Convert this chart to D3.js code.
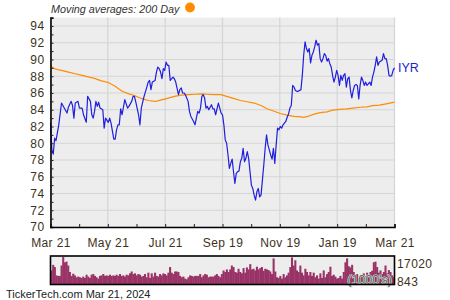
<!DOCTYPE html>
<html>
<head>
<meta charset="utf-8">
<script src="https://cdn.jsdelivr.net/npm/d3@7"></script>
<style>
  body { margin: 0; background: #fff; }
  svg { display: block; font-family: "Liberation Sans", Arial, sans-serif; }
</style>
</head>
<body>
<div id="chart"></div>
<script>
// one year of trading days, Mar 21 to Mar 21
var nDays = 250;
var xTickLabels = ["Mar 21", "May 21", "Jul 21", "Sep 19", "Nov 19", "Jan 19", "Mar 21"];
var yTickLabels = [70, 72, 74, 76, 78, 80, 82, 84, 86, 88, 90, 92, 94];
var yDomain = [70, 95];

// [trading day, close]
var iyrClose = [[0,82.4],[1,79.2],[2,78.7],[3,80.6],[4,80.3],[6,82.2],[8,84.8],[10,84.2],[12,83.6],[13,84.3],[15,85.0],[16,84.5],[17,83.0],[18,84.8],[20,85.0],[21,84.2],[23,84.2],[24,83.4],[26,82.5],[27,85.6],[29,85.0],[30,83.4],[31,83.0],[32,83.8],[33,85.0],[34,84.4],[35,84.9],[36,84.2],[38,84.0],[39,81.8],[40,83.0],[42,82.5],[43,83.0],[44,82.4],[46,80.5],[47,80.5],[48,81.6],[49,82.2],[50,82.2],[51,84.1],[52,83.4],[54,85.2],[56,84.2],[57,84.4],[59,85.0],[60,85.6],[61,85.6],[62,84.9],[64,83.4],[65,82.2],[66,84.2],[67,84.9],[68,85.6],[70,86.7],[71,87.3],[72,87.5],[73,86.4],[74,87.3],[76,87.5],[77,88.5],[78,89.1],[79,88.9],[80,88.5],[81,87.7],[82,88.9],[83,88.7],[84,89.7],[85,89.3],[86,89.3],[87,87.5],[89,87.9],[90,87.7],[91,87.3],[93,85.8],[94,86.4],[95,86.6],[96,86.0],[97,86.0],[98,85.8],[100,85.0],[101,83.8],[102,83.2],[104,82.6],[105,82.2],[106,83.0],[107,83.8],[108,83.6],[109,84.2],[110,85.6],[111,85.8],[112,85.4],[113,84.2],[114,84.4],[115,84.0],[117,84.6],[118,84.1],[119,84.1],[120,83.4],[122,84.8],[123,84.2],[124,83.6],[125,83.4],[126,82.2],[127,80.4],[128,80.0],[129,78.6],[130,77.0],[131,77.6],[132,78.1],[133,76.6],[134,75.2],[135,76.4],[136,76.6],[137,76.7],[138,77.8],[139,78.2],[140,79.4],[141,77.8],[142,78.2],[143,79.0],[144,78.2],[145,76.6],[146,75.0],[147,74.6],[148,73.8],[149,73.2],[150,74.2],[151,74.6],[152,73.6],[153,73.8],[154,75.6],[155,77.4],[156,79.4],[157,81.0],[158,79.8],[159,79.2],[160,78.6],[161,78.1],[162,79.4],[163,77.6],[164,79.8],[165,81.8],[166,81.6],[167,82.0],[168,81.8],[169,82.2],[171,82.6],[172,83.1],[173,83.5],[174,84.2],[175,84.5],[176,86.9],[177,86.7],[178,86.3],[179,86.2],[180,86.2],[182,86.4],[183,88.1],[184,90.5],[185,92.1],[186,91.3],[187,90.9],[188,91.3],[189,89.6],[190,90.5],[191,90.9],[192,91.5],[193,92.3],[194,91.7],[195,91.9],[196,90.1],[197,89.7],[198,90.1],[199,90.7],[200,90.5],[201,89.8],[202,90.1],[203,89.5],[204,89.1],[205,88.1],[206,87.3],[207,87.9],[208,88.7],[209,88.1],[210,86.9],[211,88.1],[212,87.5],[213,88.1],[214,88.3],[215,86.7],[216,87.7],[217,87.9],[218,86.3],[219,85.4],[220,86.3],[221,86.9],[222,87.0],[223,86.9],[224,85.3],[225,86.9],[226,87.9],[227,87.5],[228,86.9],[229,87.3],[230,86.9],[231,87.1],[232,87.3],[233,86.9],[234,87.9],[235,88.5],[236,89.3],[237,90.3],[238,89.3],[239,89.7],[241,89.9],[242,90.7],[243,90.1],[244,90.1],[245,89.3],[246,88.1],[247,88.0],[248,88.1],[249,88.7],[250,89.0]];

// 200 day moving average, [trading day, value]
var ma200 = [[0,89.4],[1,89.1],[3,88.9],[6,88.75],[8,88.7],[13,88.5],[18,88.3],[23,88.1],[28,87.9],[32,87.75],[37,87.45],[42,87.25],[47,86.8],[52,86.2],[57,85.9],[61,85.7],[66,85.35],[71,85.1],[76,85.0],[78,85.05],[80,85.15],[85,85.35],[90,85.6],[95,85.75],[100,85.8],[105,85.85],[110,85.9],[114,85.85],[119,85.8],[124,85.8],[128,85.6],[133,85.35],[138,85.1],[143,84.95],[148,84.8],[153,84.5],[157,84.15],[162,83.85],[167,83.55],[172,83.35],[177,83.2],[182,83.15],[184,83.1],[187,83.2],[191,83.45],[196,83.65],[201,83.75],[205,83.95],[210,84.05],[215,84.1],[220,84.2],[225,84.3],[230,84.35],[234,84.5],[239,84.55],[244,84.7],[250,84.9]];

// volume in 1000's, left to right
var volumes = [9100,12400,11100,6200,5900,5900,12000,17000,13900,14300,
  12000,8200,5900,7200,6200,5100,5500,5100,4700,5500,
  4700,6600,5500,4700,6600,7000,5900,5100,4300,5900,
  6200,7000,5900,6200,5900,6600,5900,6200,5900,6600,
  5900,7000,5900,6200,5500,6600,6200,7400,8500,7000,
  7400,6200,7000,6600,5500,5900,7000,5100,7800,4700,
  7400,5500,7800,5900,5500,7000,6200,7400,7000,6200,
  7800,11100,7800,7000,8500,8500,8200,5900,5100,5500,
  4300,3900,5100,6200,5900,5500,5900,5900,5900,7000,
  5100,6200,7000,6600,5100,5500,5500,5500,6200,7000,
  5900,5100,7000,9100,8200,9700,8200,9700,12000,11100,
  8200,7800,10100,8200,7400,10500,7800,10900,9700,12800,
  9700,10100,9100,11300,9700,10500,11100,8900,10100,9700,
  9300,8500,7000,16200,8500,5100,4700,5900,4300,7000,
  5100,
  6200,7800,11100,16800,12000,15100,9100,8200,12000,7800,
  6200,10100,8200,6200,8200,5900,7800,5100,6200,4300,
  7400,4700,9100,5100,7000,8200,11300,5900,6600,5500,
  4300,4700,5900,4300,8200,13900,16200,11600,10900,12400,
  8200,6200,7000,4700,5500,6200,7400,5900,7800,5100,
  8200,8900,13900,14300,11100,7800,9100,7000,8200,12000,
  7400,9300,8200,6200,5100];
var volMax = 17020, volMin = 843;

var W = 450, H = 300;
var plotL = 50.5, plotR = 394.5, plotT = 17.6, plotB = 227;
var volT = 257, volB = 284.5;
var labelColor = "#3d3220";

var svg = d3.select("#chart").append("svg")
  .attr("width", W)
  .attr("height", H);

var x = d3.scaleLinear().domain([0, nDays]).range([plotL, plotR]);
var y = d3.scaleLinear().domain(yDomain).range([plotB, plotT]);

// tick positions: 6 even intervals, minor tick halfway
var xMajor = d3.range(xTickLabels.length).map(function(i) { return i * nDays / (xTickLabels.length - 1); });
var xMinor = d3.range(2 * (xTickLabels.length - 1) + 1).map(function(i) { return i * nDays / (2 * (xTickLabels.length - 1)); });

// plot background + grid
svg.append("rect")
  .attr("x", plotL).attr("y", plotT)
  .attr("width", plotR - plotL).attr("height", plotB - plotT)
  .attr("fill", "#ededed");

svg.append("g").selectAll("line")
  .data(yTickLabels)
  .enter().append("line")
  .attr("x1", plotL).attr("x2", plotR)
  .attr("y1", function(d) { return y(d); })
  .attr("y2", function(d) { return y(d); })
  .attr("stroke", "#d5d5d5")
  .attr("stroke-width", 1.2);

svg.append("g").selectAll("line")
  .data(xMajor)
  .enter().append("line")
  .attr("x1", function(d) { return x(d); })
  .attr("x2", function(d) { return x(d); })
  .attr("y1", plotT).attr("y2", plotB)
  .attr("stroke", "#d5d5d5")
  .attr("stroke-width", 1.2);

// lines
var line = d3.line()
  .x(function(d) { return x(d[0]); })
  .y(function(d) { return y(d[1]); });

svg.append("path")
  .datum(ma200)
  .attr("d", line)
  .attr("fill", "none")
  .attr("stroke", "#ff8c00")
  .attr("stroke-width", 1.2);

svg.append("path")
  .datum(iyrClose)
  .attr("d", line)
  .attr("fill", "none")
  .attr("stroke", "#1f1fdc")
  .attr("stroke-width", 1.2)
  .attr("stroke-linejoin", "round");

svg.append("text")
  .attr("x", plotR + 3.5)
  .attr("y", y(iyrClose[iyrClose.length - 1][1]) + 4.3)
  .attr("fill", "#2222cc")
  .attr("font-size", "12.5px")
  .text("IYR");

// axes: small ticks drawn inside the plot
var yMinorAxis = d3.axisLeft(y)
  .tickValues(d3.range(yDomain[0], yDomain[1] + 1))
  .tickSize(-3)
  .tickFormat("");
var gy = svg.append("g").attr("transform", "translate(" + plotL + ",0)").call(yMinorAxis);

var yLabelAxis = d3.axisLeft(y)
  .tickValues(yTickLabels)
  .tickSize(0)
  .tickPadding(6);
var gyl = svg.append("g").attr("transform", "translate(" + plotL + ",0)").call(yLabelAxis);
gyl.select(".domain").remove();

var xMinorAxis = d3.axisBottom(x)
  .tickValues(xMinor)
  .tickSize(-3)
  .tickFormat("");
var gx = svg.append("g").attr("transform", "translate(0," + plotB + ")").call(xMinorAxis);

var xLabelAxis = d3.axisBottom(x)
  .tickValues(xMajor)
  .tickSize(0)
  .tickPadding(11)
  .tickFormat(function(d, i) { return xTickLabels[i]; });
var gxl = svg.append("g").attr("transform", "translate(0," + plotB + ")").call(xLabelAxis);
gxl.select(".domain").remove();

[gy, gx].forEach(function(g) {
  g.select(".domain").attr("stroke", "#000").attr("stroke-width", 1.6);
  g.selectAll(".tick line").attr("stroke", "#222").attr("stroke-width", 1);
});
[gyl, gxl].forEach(function(g) {
  g.selectAll("text")
    .attr("fill", labelColor)
    .attr("font-family", "'Liberation Sans', Arial, sans-serif")
    .attr("font-size", "12px")
    .attr("letter-spacing", "0.4px");
});

// legend
svg.append("text")
  .attr("x", 51).attr("y", 12.7)
  .attr("font-size", "10.8px")
  .attr("font-style", "italic")
  .attr("fill", "#333")
  .text("Moving averages: 200 Day");
svg.append("circle")
  .attr("cx", 190).attr("cy", 7.5).attr("r", 4.9)
  .attr("fill", "#ff8c00");

// volume panel
var vx = d3.scaleBand().domain(d3.range(volumes.length)).range([plotL, plotR]).padding(0);
var vy = d3.scaleLinear().domain([volMin, volMax]).range([volB, volT]);

svg.append("clipPath").attr("id", "vclip")
  .append("rect")
  .attr("x", plotL).attr("y", volT)
  .attr("width", plotR - plotL).attr("height", volB - volT);

svg.append("rect")
  .attr("x", plotL).attr("y", volT - 1)
  .attr("width", plotR - plotL).attr("height", volB - volT + 1)
  .attr("fill", "#ededed");

svg.append("g")
  .attr("clip-path", "url(#vclip)")
  .selectAll("rect")
  .data(volumes)
  .enter().append("rect")
  .attr("x", function(d, i) { return vx(i); })
  .attr("width", vx.bandwidth() + 0.4)
  .attr("y", function(d) { return vy(d); })
  .attr("height", function(d) { return volB - vy(d); })
  .attr("fill", "#993366");

svg.append("text")
  .attr("x", 392).attr("y", 284)
  .attr("text-anchor", "end")
  .attr("font-size", "12.5px")
  .attr("fill", "#4f6f5f")
  .attr("stroke", "#d8dfd8")
  .attr("stroke-width", 1.2)
  .attr("paint-order", "stroke")
  .text("(1000's)");

svg.append("rect")
  .attr("x", plotL).attr("y", volT - 1)
  .attr("width", plotR - plotL).attr("height", volB - volT + 1)
  .attr("fill", "none")
  .attr("stroke", "#000")
  .attr("stroke-width", 1.6);

svg.append("text")
  .attr("x", 397).attr("y", 267.5)
  .attr("font-size", "12px")
  .attr("letter-spacing", "0.4px")
  .attr("fill", labelColor)
  .text(d3.format("d")(volMax));
svg.append("text")
  .attr("x", 397).attr("y", 286)
  .attr("font-size", "12px")
  .attr("letter-spacing", "0.4px")
  .attr("fill", labelColor)
  .text(d3.format("d")(volMin));

// footer
svg.append("text")
  .attr("x", 6).attr("y", 297.5)
  .attr("font-size", "11px")
  .attr("fill", "#222")
  .text("TickerTech.com  Mar 21, 2024");
</script>
</body>
</html>
